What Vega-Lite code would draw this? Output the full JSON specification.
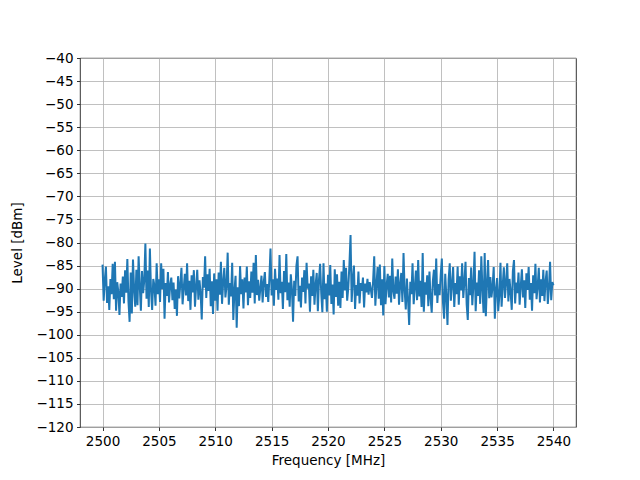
{
"$schema": "https://vega.github.io/schema/vega-lite/v6.json",
"width": 496,
"height": 369,
"autosize": {"type": "none"},
"padding": {"left": 80, "top": 58, "right": 64, "bottom": 53},
"background": "white",
"config": {
  "view": {"stroke": "black", "strokeWidth": 0.8},
  "font": "DejaVu Sans",
  "axis": {
    "labelFont": "DejaVu Sans", "labelFontSize": 13.5, "labelColor": "black",
    "titleFont": "DejaVu Sans", "titleFontSize": 13.5, "titleFontWeight": "normal", "titleColor": "black",
    "grid": true, "gridColor": "#b0b0b0", "gridWidth": 0.8,
    "domain": false, "tickColor": "black", "tickSize": 3.5, "tickWidth": 0.8, "labelPadding": 3.5
  }
},
"data": {"values": [
{"f":2500.0,"v":-84.8},{"f":2500.1,"v":-92.6},{"f":2500.2,"v":-88.1},{"f":2500.3,"v":-85.2},{"f":2500.4,"v":-93.1},{"f":2500.5,"v":-89.5},{"f":2500.6,"v":-94.6},{"f":2500.7,"v":-87.9},{"f":2500.8,"v":-91.2},{"f":2500.9,"v":-84.6},
{"f":2501.0,"v":-92.3},{"f":2501.1,"v":-84.2},{"f":2501.2,"v":-94.8},{"f":2501.3,"v":-88.6},{"f":2501.4,"v":-90.7},{"f":2501.5,"v":-95.7},{"f":2501.6,"v":-88.9},{"f":2501.7,"v":-91.8},{"f":2501.8,"v":-87.4},{"f":2501.9,"v":-93.2},
{"f":2502.0,"v":-86.0},{"f":2502.1,"v":-90.9},{"f":2502.2,"v":-83.6},{"f":2502.3,"v":-92.8},{"f":2502.4,"v":-97.2},{"f":2502.5,"v":-86.5},{"f":2502.6,"v":-95.4},{"f":2502.7,"v":-83.7},{"f":2502.8,"v":-90.2},{"f":2502.9,"v":-93.9},
{"f":2503.0,"v":-85.9},{"f":2503.1,"v":-93.6},{"f":2503.2,"v":-83.0},{"f":2503.3,"v":-89.4},{"f":2503.4,"v":-94.8},{"f":2503.5,"v":-86.2},{"f":2503.6,"v":-91.0},{"f":2503.7,"v":-88.3},{"f":2503.8,"v":-80.2},{"f":2503.9,"v":-92.2},
{"f":2504.0,"v":-86.1},{"f":2504.1,"v":-94.0},{"f":2504.2,"v":-81.3},{"f":2504.3,"v":-90.5},{"f":2504.4,"v":-94.6},{"f":2504.5,"v":-87.9},{"f":2504.6,"v":-89.3},{"f":2504.7,"v":-93.7},{"f":2504.8,"v":-84.5},{"f":2504.9,"v":-91.2},
{"f":2505.0,"v":-88.0},{"f":2505.1,"v":-92.9},{"f":2505.2,"v":-84.5},{"f":2505.3,"v":-90.1},{"f":2505.4,"v":-85.7},{"f":2505.5,"v":-96.5},{"f":2505.6,"v":-88.8},{"f":2505.7,"v":-91.6},{"f":2505.8,"v":-86.4},{"f":2505.9,"v":-93.0},
{"f":2506.0,"v":-89.2},{"f":2506.1,"v":-87.6},{"f":2506.2,"v":-92.5},{"f":2506.3,"v":-88.7},{"f":2506.4,"v":-94.4},{"f":2506.5,"v":-90.2},{"f":2506.6,"v":-95.9},{"f":2506.7,"v":-87.3},{"f":2506.8,"v":-92.1},{"f":2506.9,"v":-89.0},
{"f":2507.0,"v":-85.5},{"f":2507.1,"v":-93.4},{"f":2507.2,"v":-89.9},{"f":2507.3,"v":-86.8},{"f":2507.4,"v":-91.5},{"f":2507.5,"v":-84.5},{"f":2507.6,"v":-92.7},{"f":2507.7,"v":-88.3},{"f":2507.8,"v":-94.6},{"f":2507.9,"v":-87.1},
{"f":2508.0,"v":-90.8},{"f":2508.1,"v":-86.0},{"f":2508.2,"v":-93.9},{"f":2508.3,"v":-89.6},{"f":2508.4,"v":-85.9},{"f":2508.5,"v":-92.4},{"f":2508.6,"v":-88.2},{"f":2508.7,"v":-91.0},{"f":2508.8,"v":-96.7},{"f":2508.9,"v":-87.5},
{"f":2509.0,"v":-89.8},{"f":2509.1,"v":-83.0},{"f":2509.2,"v":-92.0},{"f":2509.3,"v":-86.9},{"f":2509.4,"v":-90.5},{"f":2509.5,"v":-85.7},{"f":2509.6,"v":-93.8},{"f":2509.7,"v":-88.4},{"f":2509.8,"v":-95.5},{"f":2509.9,"v":-86.7},
{"f":2510.0,"v":-92.6},{"f":2510.1,"v":-88.0},{"f":2510.2,"v":-94.8},{"f":2510.3,"v":-86.5},{"f":2510.4,"v":-91.3},{"f":2510.5,"v":-84.2},{"f":2510.6,"v":-93.3},{"f":2510.7,"v":-88.6},{"f":2510.8,"v":-85.5},{"f":2510.9,"v":-91.9},
{"f":2511.0,"v":-89.4},{"f":2511.1,"v":-82.2},{"f":2511.2,"v":-93.5},{"f":2511.3,"v":-88.8},{"f":2511.4,"v":-91.7},{"f":2511.5,"v":-84.4},{"f":2511.6,"v":-96.8},{"f":2511.7,"v":-90.5},{"f":2511.8,"v":-87.2},{"f":2511.9,"v":-98.5},
{"f":2512.0,"v":-89.7},{"f":2512.1,"v":-93.8},{"f":2512.2,"v":-85.1},{"f":2512.3,"v":-91.2},{"f":2512.4,"v":-88.0},{"f":2512.5,"v":-94.3},{"f":2512.6,"v":-87.6},{"f":2512.7,"v":-90.8},{"f":2512.8,"v":-85.2},{"f":2512.9,"v":-93.6},
{"f":2513.0,"v":-88.4},{"f":2513.1,"v":-92.0},{"f":2513.2,"v":-86.3},{"f":2513.3,"v":-90.9},{"f":2513.4,"v":-84.4},{"f":2513.5,"v":-93.2},{"f":2513.6,"v":-82.7},{"f":2513.7,"v":-91.4},{"f":2513.8,"v":-88.1},{"f":2513.9,"v":-92.6},
{"f":2514.0,"v":-89.9},{"f":2514.1,"v":-87.2},{"f":2514.2,"v":-93.0},{"f":2514.3,"v":-88.6},{"f":2514.4,"v":-86.4},{"f":2514.5,"v":-91.8},{"f":2514.6,"v":-89.0},{"f":2514.7,"v":-92.9},{"f":2514.8,"v":-87.7},{"f":2514.9,"v":-81.3},
{"f":2515.0,"v":-91.5},{"f":2515.1,"v":-88.0},{"f":2515.2,"v":-93.7},{"f":2515.3,"v":-85.7},{"f":2515.4,"v":-90.3},{"f":2515.5,"v":-87.8},{"f":2515.6,"v":-92.4},{"f":2515.7,"v":-82.7},{"f":2515.8,"v":-91.0},{"f":2515.9,"v":-88.5},
{"f":2516.0,"v":-94.4},{"f":2516.1,"v":-86.2},{"f":2516.2,"v":-90.8},{"f":2516.3,"v":-82.5},{"f":2516.4,"v":-92.5},{"f":2516.5,"v":-88.7},{"f":2516.6,"v":-93.9},{"f":2516.7,"v":-86.9},{"f":2516.8,"v":-90.1},{"f":2516.9,"v":-97.2},
{"f":2517.0,"v":-88.3},{"f":2517.1,"v":-91.6},{"f":2517.2,"v":-85.0},{"f":2517.3,"v":-83.0},{"f":2517.4,"v":-92.8},{"f":2517.5,"v":-89.4},{"f":2517.6,"v":-94.1},{"f":2517.7,"v":-87.6},{"f":2517.8,"v":-90.7},{"f":2517.9,"v":-86.0},
{"f":2518.0,"v":-93.2},{"f":2518.1,"v":-84.4},{"f":2518.2,"v":-90.0},{"f":2518.3,"v":-88.9},{"f":2518.4,"v":-95.0},{"f":2518.5,"v":-87.3},{"f":2518.6,"v":-91.6},{"f":2518.7,"v":-85.9},{"f":2518.8,"v":-93.5},{"f":2518.9,"v":-89.2},
{"f":2519.0,"v":-86.6},{"f":2519.1,"v":-94.9},{"f":2519.2,"v":-88.1},{"f":2519.3,"v":-84.6},{"f":2519.4,"v":-91.0},{"f":2519.5,"v":-95.1},{"f":2519.6,"v":-84.5},{"f":2519.7,"v":-92.3},{"f":2519.8,"v":-88.9},{"f":2519.9,"v":-95.0},
{"f":2520.0,"v":-87.0},{"f":2520.1,"v":-91.5},{"f":2520.2,"v":-84.9},{"f":2520.3,"v":-93.3},{"f":2520.4,"v":-89.1},{"f":2520.5,"v":-95.6},{"f":2520.6,"v":-85.8},{"f":2520.7,"v":-91.8},{"f":2520.8,"v":-86.9},{"f":2520.9,"v":-93.7},
{"f":2521.0,"v":-88.5},{"f":2521.1,"v":-94.2},{"f":2521.2,"v":-86.3},{"f":2521.3,"v":-92.0},{"f":2521.4,"v":-83.8},{"f":2521.5,"v":-90.4},{"f":2521.6,"v":-85.5},{"f":2521.7,"v":-92.6},{"f":2521.8,"v":-89.8},{"f":2521.9,"v":-84.8},
{"f":2522.0,"v":-78.4},{"f":2522.1,"v":-92.9},{"f":2522.2,"v":-88.0},{"f":2522.3,"v":-85.0},{"f":2522.4,"v":-94.4},{"f":2522.5,"v":-89.2},{"f":2522.6,"v":-91.5},{"f":2522.7,"v":-86.3},{"f":2522.8,"v":-93.2},{"f":2522.9,"v":-88.8},
{"f":2523.0,"v":-90.5},{"f":2523.1,"v":-87.6},{"f":2523.2,"v":-94.1},{"f":2523.3,"v":-88.9},{"f":2523.4,"v":-90.8},{"f":2523.5,"v":-87.9},{"f":2523.6,"v":-91.3},{"f":2523.7,"v":-88.6},{"f":2523.8,"v":-90.2},{"f":2523.9,"v":-92.0},
{"f":2524.0,"v":-88.4},{"f":2524.1,"v":-83.0},{"f":2524.2,"v":-93.7},{"f":2524.3,"v":-89.1},{"f":2524.4,"v":-85.3},{"f":2524.5,"v":-92.2},{"f":2524.6,"v":-84.8},{"f":2524.7,"v":-93.6},{"f":2524.8,"v":-88.0},{"f":2524.9,"v":-95.8},
{"f":2525.0,"v":-85.1},{"f":2525.1,"v":-93.4},{"f":2525.2,"v":-89.3},{"f":2525.3,"v":-86.8},{"f":2525.4,"v":-91.9},{"f":2525.5,"v":-87.2},{"f":2525.6,"v":-93.0},{"f":2525.7,"v":-83.5},{"f":2525.8,"v":-90.6},{"f":2525.9,"v":-92.2},
{"f":2526.0,"v":-87.4},{"f":2526.1,"v":-91.1},{"f":2526.2,"v":-85.8},{"f":2526.3,"v":-93.5},{"f":2526.4,"v":-89.0},{"f":2526.5,"v":-86.6},{"f":2526.6,"v":-92.9},{"f":2526.7,"v":-82.3},{"f":2526.8,"v":-90.4},{"f":2526.9,"v":-94.5},
{"f":2527.0,"v":-87.8},{"f":2527.1,"v":-92.4},{"f":2527.2,"v":-97.9},{"f":2527.3,"v":-88.5},{"f":2527.4,"v":-91.2},{"f":2527.5,"v":-84.5},{"f":2527.6,"v":-93.4},{"f":2527.7,"v":-89.7},{"f":2527.8,"v":-86.1},{"f":2527.9,"v":-92.5},
{"f":2528.0,"v":-83.8},{"f":2528.1,"v":-91.7},{"f":2528.2,"v":-88.3},{"f":2528.3,"v":-94.0},{"f":2528.4,"v":-82.3},{"f":2528.5,"v":-95.0},{"f":2528.6,"v":-88.6},{"f":2528.7,"v":-91.3},{"f":2528.8,"v":-87.1},{"f":2528.9,"v":-93.8},
{"f":2529.0,"v":-86.3},{"f":2529.1,"v":-92.1},{"f":2529.2,"v":-95.2},{"f":2529.3,"v":-88.4},{"f":2529.4,"v":-85.9},{"f":2529.5,"v":-91.5},{"f":2529.6,"v":-83.5},{"f":2529.7,"v":-93.1},{"f":2529.8,"v":-89.0},{"f":2529.9,"v":-91.4},
{"f":2530.0,"v":-87.0},{"f":2530.1,"v":-83.5},{"f":2530.2,"v":-93.0},{"f":2530.3,"v":-96.5},{"f":2530.4,"v":-86.8},{"f":2530.5,"v":-91.8},{"f":2530.6,"v":-97.9},{"f":2530.7,"v":-88.1},{"f":2530.8,"v":-84.5},{"f":2530.9,"v":-92.6},
{"f":2531.0,"v":-89.0},{"f":2531.1,"v":-85.3},{"f":2531.2,"v":-94.0},{"f":2531.3,"v":-88.8},{"f":2531.4,"v":-91.2},{"f":2531.5,"v":-85.2},{"f":2531.6,"v":-93.5},{"f":2531.7,"v":-87.3},{"f":2531.8,"v":-90.4},{"f":2531.9,"v":-84.5},
{"f":2532.0,"v":-92.0},{"f":2532.1,"v":-88.5},{"f":2532.2,"v":-84.2},{"f":2532.3,"v":-93.4},{"f":2532.4,"v":-96.8},{"f":2532.5,"v":-87.7},{"f":2532.6,"v":-91.4},{"f":2532.7,"v":-85.4},{"f":2532.8,"v":-93.6},{"f":2532.9,"v":-89.2},
{"f":2533.0,"v":-82.0},{"f":2533.1,"v":-94.9},{"f":2533.2,"v":-88.7},{"f":2533.3,"v":-91.6},{"f":2533.4,"v":-86.0},{"f":2533.5,"v":-93.3},{"f":2533.6,"v":-83.0},{"f":2533.7,"v":-90.1},{"f":2533.8,"v":-95.3},{"f":2533.9,"v":-82.3},
{"f":2534.0,"v":-96.0},{"f":2534.1,"v":-88.9},{"f":2534.2,"v":-83.8},{"f":2534.3,"v":-92.1},{"f":2534.4,"v":-87.5},{"f":2534.5,"v":-91.9},{"f":2534.6,"v":-89.5},{"f":2534.7,"v":-85.3},{"f":2534.8,"v":-96.5},{"f":2534.9,"v":-90.2},
{"f":2535.0,"v":-87.7},{"f":2535.1,"v":-94.9},{"f":2535.2,"v":-91.5},{"f":2535.3,"v":-84.4},{"f":2535.4,"v":-93.9},{"f":2535.5,"v":-89.3},{"f":2535.6,"v":-85.4},{"f":2535.7,"v":-92.0},{"f":2535.8,"v":-88.6},{"f":2535.9,"v":-84.5},
{"f":2536.0,"v":-92.8},{"f":2536.1,"v":-87.9},{"f":2536.2,"v":-90.8},{"f":2536.3,"v":-94.6},{"f":2536.4,"v":-86.2},{"f":2536.5,"v":-83.8},{"f":2536.6,"v":-93.2},{"f":2536.7,"v":-88.7},{"f":2536.8,"v":-91.0},{"f":2536.9,"v":-86.5},
{"f":2537.0,"v":-93.5},{"f":2537.1,"v":-89.4},{"f":2537.2,"v":-85.8},{"f":2537.3,"v":-91.9},{"f":2537.4,"v":-88.2},{"f":2537.5,"v":-94.2},{"f":2537.6,"v":-86.7},{"f":2537.7,"v":-90.3},{"f":2537.8,"v":-85.3},{"f":2537.9,"v":-92.4},
{"f":2538.0,"v":-88.8},{"f":2538.1,"v":-94.8},{"f":2538.2,"v":-87.1},{"f":2538.3,"v":-91.0},{"f":2538.4,"v":-84.6},{"f":2538.5,"v":-92.3},{"f":2538.6,"v":-89.5},{"f":2538.7,"v":-85.5},{"f":2538.8,"v":-93.0},{"f":2538.9,"v":-88.0},
{"f":2539.0,"v":-91.6},{"f":2539.1,"v":-85.9},{"f":2539.2,"v":-92.7},{"f":2539.3,"v":-88.4},{"f":2539.4,"v":-86.1},{"f":2539.5,"v":-93.3},{"f":2539.6,"v":-89.8},{"f":2539.7,"v":-84.2},{"f":2539.8,"v":-92.5},{"f":2539.9,"v":-88.6},
{"f":2540.0,"v":-89.3}
]},
"mark": {"type": "line", "color": "#1f77b4", "strokeWidth": 2, "clip": true},
"encoding": {
  "x": {"field": "f", "type": "quantitative", "title": "Frequency [MHz]",
        "scale": {"domain": [2498, 2542], "nice": false, "zero": false},
        "axis": {"values": [2500,2505,2510,2515,2520,2525,2530,2535,2540], "format": "d", "titlePadding": 6}},
  "y": {"field": "v", "type": "quantitative", "title": "Level [dBm]",
        "scale": {"domain": [-120, -40], "nice": false, "zero": false},
        "axis": {"values": [-120,-115,-110,-105,-100,-95,-90,-85,-80,-75,-70,-65,-60,-55,-50,-45,-40],
                 "labelExpr": "replace(format(datum.value, 'd'), '-', '\u2212')", "titlePadding": 11}}
}
}
